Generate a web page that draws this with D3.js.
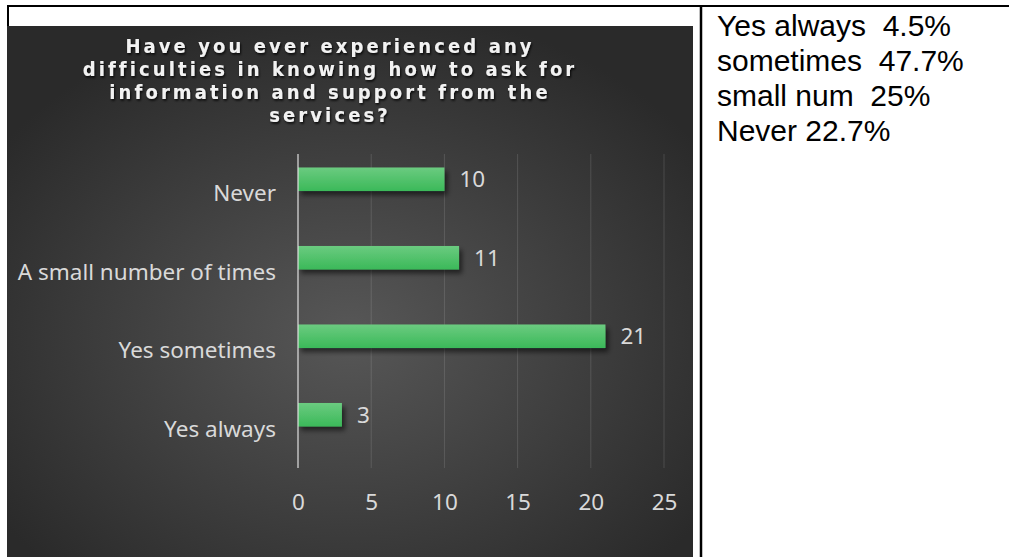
<!DOCTYPE html>
<html>
<head>
<meta charset="utf-8">
<script src="https://cdn.jsdelivr.net/npm/d3@7"></script>
<style>
  html, body { margin: 0; padding: 0; background: #ffffff; }
  svg { display: block; }
</style>
</head>
<body>
<svg id="chart" width="1009" height="557"></svg>
<script>
// Survey answers, listed top to bottom as they appear on the category axis
const categories = ["Never", "A small number of times", "Yes sometimes", "Yes always"];
const counts = [10, 11, 21, 3];
const xTicks = [0, 5, 10, 15, 20, 25];
const titleLines = [
  "Have you ever experienced any",
  "difficulties in knowing how to ask for",
  "information and support from the",
  "services?"
];
// Notes typed in the right-hand table cell
const sideNotes = ["Yes always  4.5%", "sometimes  47.7%", "small num  25%", "Never 22.7%"];

const svg = d3.select("#chart");
const defs = svg.append("defs");

// Dark radial background of the chart panel
const bg = defs.append("radialGradient").attr("id", "panelBg")
  .attr("cx", "50%").attr("cy", "58%").attr("r", "62%");
bg.append("stop").attr("offset", "0%").attr("stop-color", "#575757");
bg.append("stop").attr("offset", "100%").attr("stop-color", "#2a2a2a");

// Green bar fill, lighter at the top
const barGrad = defs.append("linearGradient").attr("id", "barFill")
  .attr("x1", 0).attr("y1", 0).attr("x2", 0).attr("y2", 1);
barGrad.append("stop").attr("offset", "0%").attr("stop-color", "#6bcb80");
barGrad.append("stop").attr("offset", "100%").attr("stop-color", "#3bb959");

const barShadow = defs.append("filter").attr("id", "barShadow")
  .attr("x", "-10%").attr("y", "-30%").attr("width", "130%").attr("height", "190%");
barShadow.append("feDropShadow").attr("dx", 3).attr("dy", 4).attr("stdDeviation", 2.5)
  .attr("flood-color", "#000").attr("flood-opacity", 0.55);

const textShadow = defs.append("filter").attr("id", "titleShadow")
  .attr("x", "-5%").attr("y", "-30%").attr("width", "110%").attr("height", "170%");
textShadow.append("feDropShadow").attr("dx", 1).attr("dy", 1.5).attr("stdDeviation", 1.2)
  .attr("flood-color", "#000").attr("flood-opacity", 0.85);

// Table borders around the two cells
svg.append("line").attr("x1", 7).attr("x2", 1009).attr("y1", 6).attr("y2", 6)
  .attr("stroke", "#000").attr("stroke-width", 2);
svg.append("line").attr("x1", 8).attr("x2", 8).attr("y1", 5).attr("y2", 30)
  .attr("stroke", "#000").attr("stroke-width", 2);
svg.append("line").attr("x1", 701).attr("x2", 701).attr("y1", 5).attr("y2", 557)
  .attr("stroke", "#000").attr("stroke-width", 2.5);

// Chart panel
svg.append("rect").attr("x", 7).attr("y", 26).attr("width", 686).attr("height", 531)
  .attr("fill", "url(#panelBg)");

// Title (glyphs drawn slightly tall)
const titleScaleY = 1.1;
const title = svg.append("g")
  .attr("transform", `translate(330,0) scale(1,${titleScaleY})`)
  .append("text")
  .attr("text-anchor", "middle")
  .attr("font-family", "'DejaVu Sans', Verdana, sans-serif")
  .attr("font-weight", "bold").attr("font-size", 18)
  .attr("letter-spacing", 3.1)
  .attr("fill", "#f2f2f2")
  .attr("filter", "url(#titleShadow)");
title.selectAll("tspan").data(titleLines).join("tspan")
  .attr("x", 0)
  .attr("y", (d, i) => (53 + i * 23) / titleScaleY)
  .text(d => d);

// Scales
const x = d3.scaleLinear().domain([0, 25]).range([298, 664]);
const y = d3.scaleBand().domain(categories).range([154, 468]);
const barH = y.bandwidth() * 0.3;
const barLift = 14;

const labelFont = "'Noto Sans', 'Open Sans', sans-serif";
const labelColor = "#d9d9d9";

// Vertical gridlines
svg.append("g").selectAll("line").data(xTicks.filter(t => t > 0)).join("line")
  .attr("x1", d => x(d)).attr("x2", d => x(d))
  .attr("y1", 154).attr("y2", 468)
  .attr("stroke", "#d9d9d9").attr("stroke-opacity", 0.16).attr("stroke-width", 1);

// Bars
svg.append("g").selectAll("rect").data(categories).join("rect")
  .attr("x", x(0))
  .attr("y", d => y(d) + (y.bandwidth() - barH) / 2 - barLift)
  .attr("width", (d, i) => x(counts[i]) - x(0))
  .attr("height", barH)
  .attr("fill", "url(#barFill)")
  .attr("filter", "url(#barShadow)");

// Value axis line drawn over the bars
svg.append("line").attr("x1", x(0)).attr("x2", x(0)).attr("y1", 154).attr("y2", 468)
  .attr("stroke", "#e0e0e0").attr("stroke-opacity", 0.6).attr("stroke-width", 2);

// Data labels
svg.append("g").selectAll("text").data(categories).join("text")
  .attr("x", (d, i) => x(counts[i]) + 15)
  .attr("y", d => y(d) + y.bandwidth() / 2 - barLift)
  .attr("dy", "0.36em")
  .attr("font-family", labelFont).attr("font-size", 22.5)
  .attr("fill", labelColor)
  .text((d, i) => counts[i]);

// Category axis
const yAxis = svg.append("g").attr("transform", `translate(${x(0)},0)`)
  .call(d3.axisLeft(y).tickSize(0).tickPadding(22));
yAxis.select(".domain").remove();
yAxis.selectAll("text")
  .attr("font-family", labelFont).attr("font-size", 22.5)
  .attr("fill", labelColor).attr("dy", "0.36em");

// Value axis tick labels
const xAxis = svg.append("g").attr("transform", "translate(0,468)")
  .call(d3.axisBottom(x).tickValues(xTicks).tickSize(0).tickPadding(26));
xAxis.select(".domain").remove();
xAxis.selectAll("text")
  .attr("font-family", labelFont).attr("font-size", 22.5)
  .attr("fill", labelColor).attr("dy", "0.71em");

// Right-hand cell notes
svg.append("g").selectAll("text").data(sideNotes).join("text")
  .attr("x", 717)
  .attr("y", (d, i) => 36 + i * 35)
  .attr("font-family", "'Liberation Sans', Arial, sans-serif")
  .attr("font-size", 30)
  .attr("fill", "#000")
  .style("white-space", "pre")
  .text(d => d);
</script>
</body>
</html>
